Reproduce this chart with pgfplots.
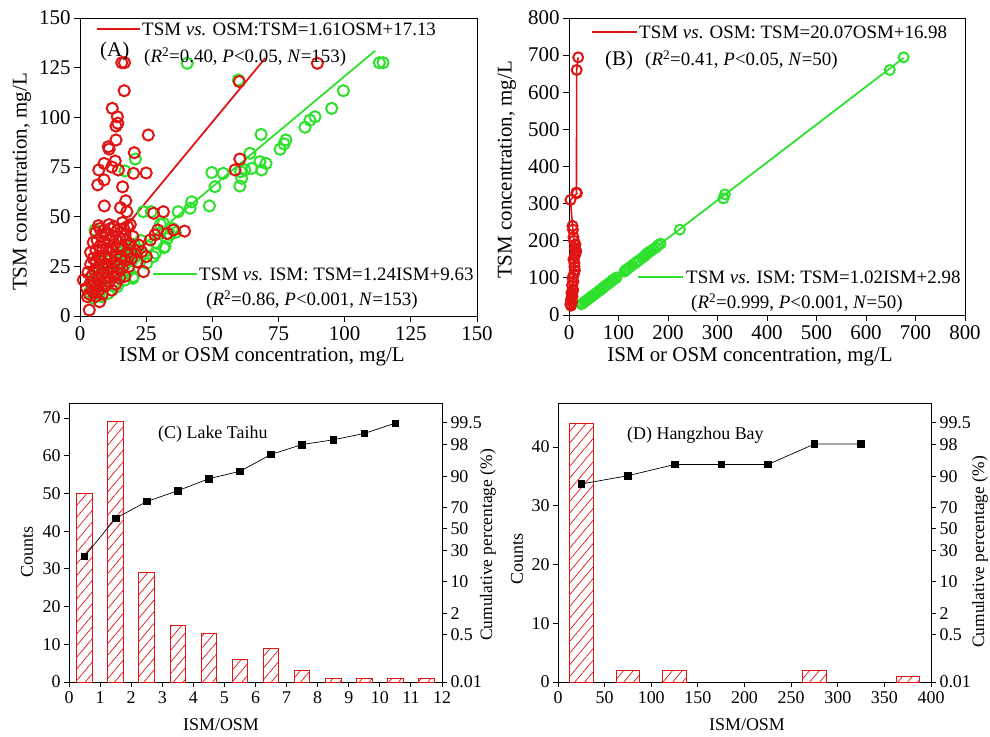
\documentclass[border=0pt]{standalone}
\usepackage{pgfplots}
\pgfplotsset{compat=1.18}
\usepackage{fontspec}
\setmainfont{Liberation Serif}
\usetikzlibrary{patterns.meta}
\definecolor{myred}{RGB}{225,20,20}
\definecolor{mygreen}{RGB}{45,225,45}
\pgfplotsset{
  base/.style={scale only axis, axis line style={line width=0.9pt},
    tick style={line width=0.9pt, black}, tick align=outside,
    major tick length=6bp, xtick pos=bottom, ytick pos=left,
    /pgf/number format/assume math mode=true,
    tick label style={font=\fontsize{21}{24}\selectfont},
    xticklabel style={yshift=-1bp}, clip=false},
  small/.style={tick label style={font=\fontsize{18}{21}\selectfont}, major tick length=5bp},
  rcirc/.style={only marks, mark=o, mark size=5.6bp, mark options={line width=2pt, draw=myred}},
  gcirc/.style={only marks, mark=o, mark size=5.6bp, mark options={line width=2pt, draw=mygreen}},
  hbar/.style={ybar, draw=myred, line width=0.9pt, pattern={Lines[angle=50,distance=7.5bp,line width=0.7pt]}, pattern color=myred},
  cum/.style={black, line width=0.7pt, mark=square*, mark size=3.3bp, mark options={fill=black}}
}
\newcommand{\fs}{\fontsize{21}{24}\selectfont}
\newcommand{\fl}{\fontsize{19}{22}\selectfont}
\newcommand{\fc}{\fontsize{18}{21}\selectfont}
\begin{document}
\begin{tikzpicture}[x=1bp,y=1bp]
\useasboundingbox (0,0) rectangle (990,737);
% ---------------- Panel A ----------------
\begin{axis}[base, at={(80bp,421bp)}, width=397bp, height=298bp,
  xmin=0, xmax=150, ymin=0, ymax=150, xtick={0,25,...,150}, ytick={0,25,...,150}]
\addplot[gcirc] coordinates {
(3.5,12)(4.5,16)(5,9)(5.5,20)(6,14)(6.5,24)(7,11)(7.5,18)(8,22)(8.2,9.7)(8.5,27)(9,15)(9.5,20)(10,25)(10.7,11.4)(11,18)(11.5,28)(12,22)(12.5,15)(13,26)(13.5,31)(14,20)(14.1,14.8)(14.5,34)(15,24)(15.5,28)(16,21)(16.5,31)(17,18.1)(17,26)(17.5,35)(18,29)(18.5,23)(19,32)(19.6,28.2)(20,19)(20.1,19.8)(20.5,36)(21,30)(22,33)(22.5,27)(23,38)(24,31)(25.2,26.6)(25.5,35)(27.7,29.9)(28.5,31.6)(29,36.6)(30.4,46.2)(31.5,46.7)(31.7,34.4)(32.1,34.9)(33,39)(34,41)(35,44)(36,42)(5.7,43.3)(17,73)(20.9,79)(23.9,52.5)(26.9,52.5)(40.5,127.2)(59.8,118.8)(37.1,52.5)(41.6,54.2)(42.2,57.5)(48.9,55.4)(51,65.1)(49.8,72.2)(54.1,71.8)(60.4,65.4)(61.1,69.3)(60.7,72.6)(62.3,73.5)(64.2,81.9)(64.9,74.3)(68.6,73.5)(68,77.7)(70.3,76.8)(68.4,91.4)(75.6,83.9)(77.1,86.6)(77.8,88.6)(85,95)(86.9,98.6)(88.8,100.3)(95.1,104.5)(99.5,113.4)(113.1,127.5)(114.5,127.5)
};
\addplot[mygreen, line width=1.8pt] coordinates {(3,12.6) (111.5,133.5)};
\addplot[rcirc] coordinates {
(15.8,127.5)(16.8,127.5)(16.7,113.4)(12.2,104.5)(14.1,100.3)(14.3,97)(13.6,95.6)(13.6,88.6)(10.7,85.2)(11,84)(25.8,91.1)(20.5,82.2)(7.1,73.5)(9.1,76.8)(13.3,78)(14.5,73.5)(12,75)(20.2,71.8)(25,72)(6.7,66)(9.1,68.5)(16.1,65)(9.2,55.4)(17.3,58)(17.7,52.5)(15.3,54.5)(27.8,51.7)(31.5,52.5)(58.6,73.5)(60.4,79)(60.2,118)(89.7,127.2)(29.4,43.3)(35.4,43.3)(39.5,42.7)(32.9,41.5)(28.3,40.8)(26.6,38.3)(22.2,35.7)(23.3,32.4)(25.1,29.9)(24,22.3)(21.6,27.2)(3.5,3)(1.3,18.1)(2.8,9.7)(7.4,7.2)(6.5,14.8)
(2.5,14)(3,22)(3.5,11)(4,17)(4,26)(4,32)(4.5,20)(5,12)(5,29)(5,37)(5.5,23)(5.5,16)(6,10)(6,27)(6,33)(6,42)(6.5,19)(6.5,38)(7,13)(7,24)(7,30)(7.5,35)(7.5,44)(8,17)(8,21)(8,28)(8,40)(8.5,11)(8.5,33)(9,24)(9,37)(9,43)(9.5,15)(9.5,19)(9.5,30)(10,26)(10,34)(10,41)(10.5,22)(11,17)(11,29)(11,38)(11.5,44)(12,13)(12,24)(12,33)(12.5,20)(12.5,40)(13,27)(13,36)(13.5,16)(13.5,30)(14,22)(14,43)(14.5,34)(14.5,26)(15,19)(15,39)(15.5,30)(16,24)(16,35)(16.5,44)(17,28)(17,20)(17.5,38)(18,32)(18.5,25)(19,36)(19.5,29)(20,40)(21,33)(18,45)(16,47)(19,46)(17,41)(11,46)(13,45)(7,45.5)
};
\addplot[myred, line width=1.8pt] coordinates {(1.3,19.2) (70,129.8)};
\end{axis}
\draw[myred, line width=1.8pt] (97,708) -- (140,708);
\node[anchor=west, inner sep=0, font=\fl] at (142,708) {TSM \textit{vs.} OSM:TSM=1.61OSM+17.13};
\node[anchor=west, inner sep=0, font=\fs] at (100,686) {(A)};
\node[anchor=west, inner sep=0, font=\fl] at (144,680) {(\textit{R}\textsuperscript{2}=0.40, \textit{P}<0.05, \textit{N}=153)};
\draw[mygreen, line width=1.8pt] (153,463) -- (197,463);
\node[anchor=west, inner sep=0, font=\fl] at (199,463) {TSM \textit{vs.} ISM: TSM=1.24ISM+9.63};
\node[anchor=west, inner sep=0, font=\fl] at (206,437) {(\textit{R}\textsuperscript{2}=0.86, \textit{P}<0.001, \textit{N}=153)};
\node[rotate=90, font=\fs] at (22,555) {TSM concentration, mg/L};
\node[font=\fs] at (262,380) {ISM or OSM concentration, mg/L};
% ---------------- Panel B ----------------
\begin{axis}[base, at={(569bp,422bp)}, width=396bp, height=297bp,
  xmin=0, xmax=800, ymin=0, ymax=800, xtick={0,100,...,800}, ytick={0,100,...,800}]
\addplot[gcirc, mark size=5bp] coordinates {
(25,29)(28,32)(32,36)(35,39)(38,42)(42,46)(45,49)(48,52)(52,56)(56,60)(60,64)(63,67)(67,71)(70,75)(74,79)(78,83)(82,87)(86,91)(88,94)(92,97)(96,101)(112,117)(115,121)(118,124)(122,128)(128,134)(134,140)(138,144)(142,148)(148,154)(152,158)(155,162)(158,166)(162,170)(165,172)(170,177)(176,182)(180,188)(185,192)(224,230)(312,314)(315,325)(648,660)(676,694)
};
\addplot[mygreen, line width=1.8pt] coordinates {(25,28.5) (676,692.5)};
\addplot[myred, line width=1.6pt, mark=o, mark size=5bp, mark options={line width=2pt}] coordinates {
(4,25)(3,28)(3,30)(6,35)(4,40)(5,45)(7,50)(6,55)(5,60)(8,65)(8,70)(6,80)(9,90)(7,100)(10,110)(12,120)(11,130)(11,140)(9,150)(12,160)(13,165)(14,170)(14,175)(12,180)(13,190)(10,200)(9,210)(8,230)(7,240)(3,310)(16,328)(15,330)(15.5,660)(18.5,694)
};
\end{axis}
\draw[myred, line width=1.8pt] (592,705) -- (637,705);
\node[anchor=west, inner sep=0, font=\fl] at (639,705) {TSM \textit{vs}. OSM: TSM=20.07OSM+16.98};
\node[anchor=west, inner sep=0, font=\fs] at (605,677) {(B)};
\node[anchor=west, inner sep=0, font=\fl] at (645,677) {(\textit{R}\textsuperscript{2}=0.41, \textit{P}<0.05, \textit{N}=50)};
\draw[mygreen, line width=1.8pt] (638,460) -- (683,460);
\node[anchor=west, inner sep=0, font=\fl] at (686,460) {TSM \textit{vs}. ISM: TSM=1.02ISM+2.98};
\node[anchor=west, inner sep=0, font=\fl] at (691,434) {(\textit{R}\textsuperscript{2}=0.999, \textit{P}<0.001, \textit{N}=50)};
\node[rotate=90, font=\fs] at (507,567) {TSM concentration, mg/L};
\node[font=\fs] at (750,380) {ISM or OSM concentration, mg/L};
% ---------------- Panel C ----------------
\begin{axis}[base, small, at={(69bp,55bp)}, width=373bp, height=279bp,
  xmin=0, xmax=12, ymin=0, ymax=74, xtick={0,1,...,12}, ytick={0,10,...,70}]
\addplot[hbar, bar width=0.5] coordinates {
(0.5,50)(1.5,69)(2.5,29)(3.5,15)(4.5,13)(5.5,6)(6.5,9)(7.5,3)(8.5,1)(9.5,1)(10.5,1)(11.5,1)
};
\end{axis}
\begin{axis}[base, small, at={(69bp,55bp)}, width=373bp, height=279bp,
  xmin=0, xmax=12, ymin=-3.72, ymax=3.06, axis x line=none, axis y line*=right, ytick pos=right,
  ytick={-3.719,-2.576,-2.054,-1.282,-0.524,0,0.524,1.282,2.054,2.576},
  yticklabels={0.01,0.5,2,10,30,50,70,90,98,99.5}]
\addplot[cum] coordinates {
(0.5,-0.665)(1.5,0.256)(2.5,0.666)(3.5,0.927)(4.5,1.220)(5.5,1.400)(6.5,1.810)(7.5,2.050)(8.5,2.165)(9.5,2.320)(10.5,2.570)
};
\end{axis}
\node[anchor=west, inner sep=0, font=\fc] at (158,303) {(C) Lake Taihu};
\node[rotate=90, font=\fc] at (27,185) {Counts};
\node[rotate=90, font=\fontsize{17.5}{20}\selectfont] at (488,192) {Cumulative percentage (\%)};
\node[font=\fc] at (221,12) {ISM/OSM};
% ---------------- Panel D ----------------
\begin{axis}[base, small, at={(558bp,55bp)}, width=373bp, height=279bp,
  xmin=0, xmax=400, ymin=0, ymax=47.5, xtick={0,50,...,400}, ytick={0,10,...,40}]
\addplot[hbar, bar width=25] coordinates {
(25,44)(75,2)(125,2)(275,2)(375,1)
};
\end{axis}
\begin{axis}[base, small, at={(558bp,55bp)}, width=373bp, height=279bp,
  xmin=0, xmax=400, ymin=-3.72, ymax=3.06, axis x line=none, axis y line*=right, ytick pos=right,
  ytick={-3.719,-2.576,-2.054,-1.282,-0.524,0,0.524,1.282,2.054,2.576},
  yticklabels={0.01,0.5,2,10,30,50,70,90,98,99.5}]
\addplot[cum] coordinates {
(25,1.093)(75,1.293)(125,1.565)(175,1.565)(225,1.565)(275,2.062)(325,2.062)
};
\end{axis}
\node[anchor=west, inner sep=0, font=\fc] at (627,302) {(D) Hangzhou Bay};
\node[rotate=90, font=\fc] at (517,178) {Counts};
\node[rotate=90, font=\fontsize{17.5}{20}\selectfont] at (980,185) {Cumulative percentage (\%)};
\node[font=\fc] at (747,12) {ISM/OSM};
\end{tikzpicture}
\end{document}
